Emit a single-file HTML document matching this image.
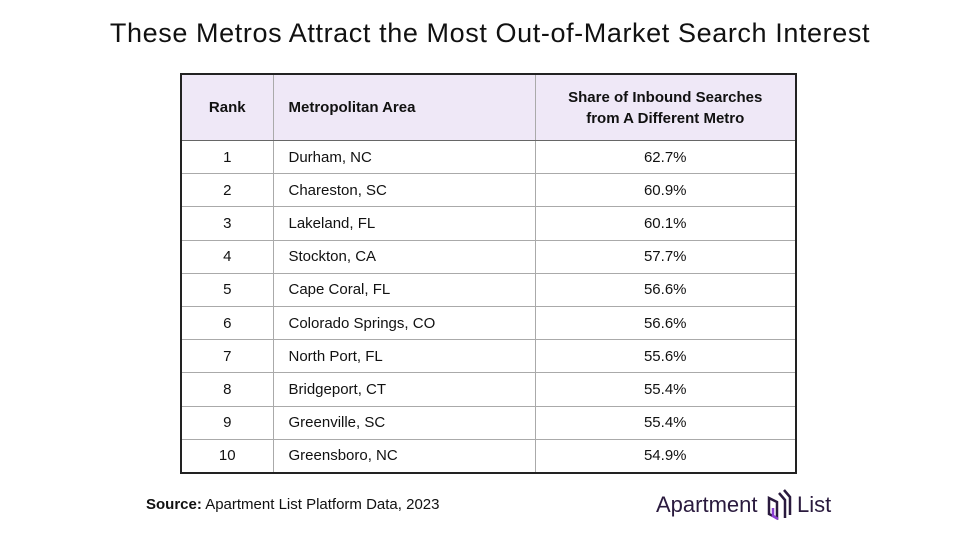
<!DOCTYPE html>
<html><head><meta charset="utf-8"><style>
body{margin:0;width:980px;height:550px;background:#fff;position:relative;font-family:"Liberation Sans",sans-serif;overflow:hidden}
.t{position:absolute;white-space:nowrap}
table{position:absolute;left:180px;top:73px;width:617px;border-collapse:collapse;border:2px solid #222;font-size:15px;color:#111;table-layout:fixed}
td{border:1px solid #aaa;height:32.2px;padding:0}
th{background:#efe8f7;height:65px;font-size:15px;font-weight:bold;border:1px solid #aaa;border-bottom:1px solid #666;line-height:21px;padding:0}
.c{text-align:center}.l{padding-left:15px;text-align:left}
</style></head><body>
<div class="t" style="left:0;width:980px;text-align:center;top:18px;font-size:27px;color:#111;letter-spacing:0.6px">These Metros Attract the Most Out-of-Market Search Interest</div>
<table>
<colgroup><col style="width:92px"><col style="width:262px"><col></colgroup>
<tr><th class="c">Rank</th><th class="l">Metropolitan Area</th><th class="c">Share of Inbound Searches<br>from A Different Metro</th></tr>
<tr><td class="c">1</td><td class="l">Durham, NC</td><td class="c">62.7%</td></tr>
<tr><td class="c">2</td><td class="l">Chareston, SC</td><td class="c">60.9%</td></tr>
<tr><td class="c">3</td><td class="l">Lakeland, FL</td><td class="c">60.1%</td></tr>
<tr><td class="c">4</td><td class="l">Stockton, CA</td><td class="c">57.7%</td></tr>
<tr><td class="c">5</td><td class="l">Cape Coral, FL</td><td class="c">56.6%</td></tr>
<tr><td class="c">6</td><td class="l">Colorado Springs, CO</td><td class="c">56.6%</td></tr>
<tr><td class="c">7</td><td class="l">North Port, FL</td><td class="c">55.6%</td></tr>
<tr><td class="c">8</td><td class="l">Bridgeport, CT</td><td class="c">55.4%</td></tr>
<tr><td class="c">9</td><td class="l">Greenville, SC</td><td class="c">55.4%</td></tr>
<tr><td class="c">10</td><td class="l">Greensboro, NC</td><td class="c">54.9%</td></tr>
</table>
<div class="t" style="left:146px;top:496px;font-size:15px;color:#111"><b>Source:</b> Apartment List Platform Data, 2023</div>
<div class="t" style="left:656px;top:492px;font-size:22px;color:#2a1a3e">Apartment</div>
<svg style="position:absolute;left:765px;top:488px" width="30" height="34" viewBox="0 0 30 34">
<path d="M4 10 L4 26 L12 30 L12 14 Z" fill="none" stroke="#2a1a3e" stroke-width="2.5"/>
<path d="M8 20 L8 28 L13 31" fill="none" stroke="#8a3fd1" stroke-width="2.5"/>
<path d="M14 5 L20 12 L20 30 M19 2 L25 9 L25 27" fill="none" stroke="#2a1a3e" stroke-width="2.5"/>
</svg>
<div class="t" style="left:797px;top:492px;font-size:22px;color:#2a1a3e">List</div>
</body></html>
